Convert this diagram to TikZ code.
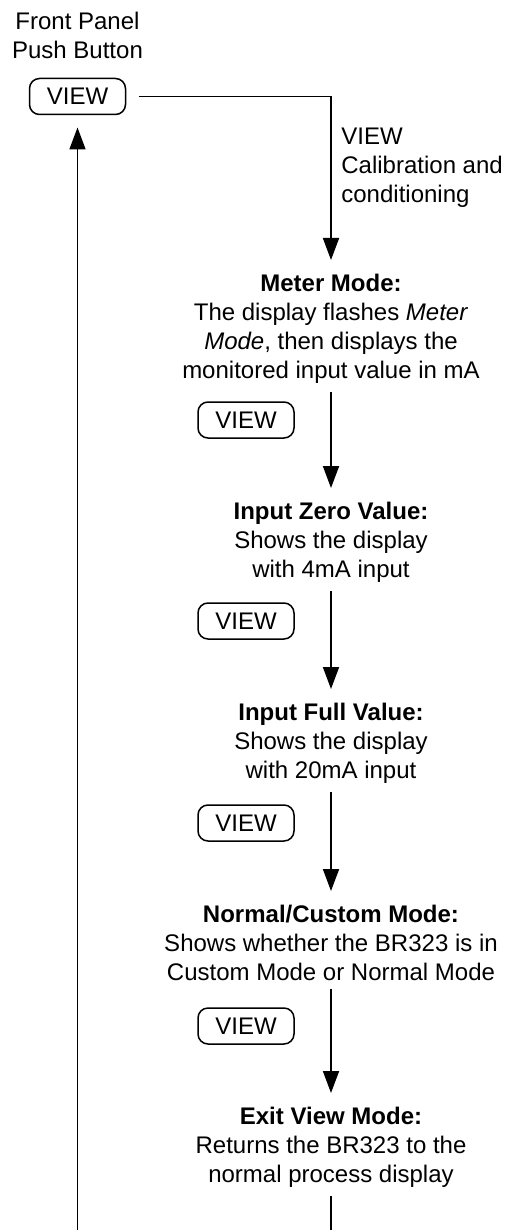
\documentclass[tikz,border=0pt]{standalone}
\usepackage{fontspec}
\setmainfont{Liberation Sans}
\usetikzlibrary{arrows.meta}
\begin{document}
\begin{tikzpicture}[x=0.5pt, y=-0.5pt,
    every node/.style={font=\fontsize{12}{14.5}\selectfont},
    btn/.style={draw, rounded corners=5pt, line width=0.75pt, minimum width=48pt, minimum height=18pt, inner sep=0pt},
    stage/.style={align=center, anchor=north, inner xsep=0pt, inner ysep=4pt},
    flow/.style={line width=0.9pt, shorten >=3pt, -{Triangle[length=11pt, width=8pt]}}]
  \useasboundingbox (0,0) rectangle (512,1230);
  % push button at the top left
  \node[align=center] (caption) at (77.5,35) {Front Panel\\Push Button};
  \node[btn, outer xsep=6.5pt, outer ysep=3.5pt] (top) at (77.5,96.5) {VIEW};
  \node[align=left, anchor=north west, inner sep=0pt] (note) at (341,128) {VIEW\\Calibration and\\conditioning};
  % the view stages
  \node[stage] (meter) at (331,266) {\textbf{Meter Mode:}\\The display flashes \textit{Meter}\\\textit{Mode}, then displays the\\monitored input value in mA};
  \node[stage] (zero) at (331,494) {\textbf{Input Zero Value:}\\Shows the display\\with 4mA input};
  \node[stage] (full) at (331,695) {\textbf{Input Full Value:}\\Shows the display\\with 20mA input};
  \node[stage] (custom) at (331,897) {\textbf{Normal/Custom Mode:}\\Shows whether the BR323 is in\\Custom Mode or Normal Mode};
  \node[stage] (exitv) at (331,1099) {\textbf{Exit View Mode:}\\Returns the BR323 to the\\normal process display};
  % buttons beside the arrows
  \node[btn] (view1) at (246,420) {VIEW};
  \node[btn] (view2) at (246,621) {VIEW};
  \node[btn] (view3) at (246,823) {VIEW};
  \node[btn] (view4) at (246,1026) {VIEW};
  \coordinate (back) at (77.5,1250);
  \draw[flow] (top.east) -| (meter.north);
  \draw[flow] (meter.south) -- (zero.north);
  \draw[flow] (zero.south) -- (full.north);
  \draw[flow] (full.south) -- (custom.north);
  \draw[flow] (custom.south) -- (exitv.north);
  \draw[flow] (exitv.south) |- (back) -- (top.south);
\end{tikzpicture}
\end{document}
